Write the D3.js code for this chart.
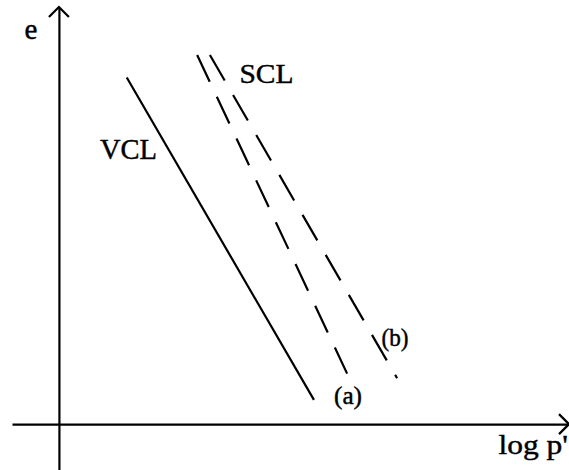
<!DOCTYPE html>
<html>
<head>
<meta charset="utf-8">
<script src="https://cdn.jsdelivr.net/npm/d3@7"></script>
<style>
  html, body { margin: 0; padding: 0; background: #fff; }
  svg { display: block; }
  text { font-family: "Liberation Serif", "Times New Roman", serif; fill: #000; stroke: #000; stroke-width: 0.45px; }
</style>
</head>
<body>
<svg id="chart" width="569" height="470"></svg>
<script>
// Compression lines in e – log p' space (schematic, arbitrary units)
const vclLogP = [1.33, 5.00];
const vclE    = [8.31, 0.58];

const sclALogP = [2.71, 5.65];
const sclAE    = [8.85, 1.21];

const sclBLogP = [2.96, 6.63];
const sclBE    = [8.85, 1.10];

// Axis extents (axes cross at the origin)
const logPDomain = [-0.92, 10.0];
const eDomain    = [-1.1, 10.0];
const axisTicks  = [];

const W = 569, H = 470;
const svg = d3.select("#chart");

const x = d3.scaleLinear().domain(logPDomain).range([12, 569]);
const y = d3.scaleLinear().domain(eDomain).range([470, 7]);

// Axes: plain lines through the origin, no ticks
const xAxis = svg.append("g")
  .attr("transform", `translate(0,${y(0)})`)
  .call(d3.axisBottom(x).tickValues(axisTicks).tickSizeOuter(0));
const yAxis = svg.append("g")
  .attr("transform", `translate(${x(0)},0)`)
  .call(d3.axisLeft(y).tickValues(axisTicks).tickSizeOuter(0));
[xAxis, yAxis].forEach(g => g.select(".domain")
  .attr("stroke", "#000").attr("stroke-width", 2.2));

// Open arrowheads at the positive ends of both axes
const head = 10;
svg.append("path")
  .attr("d", `M${x(0) - head},${y(eDomain[1]) + head} L${x(0)},${y(eDomain[1])} L${x(0) + head},${y(eDomain[1]) + head}`)
  .attr("fill", "none").attr("stroke", "#000").attr("stroke-width", 2.2);
svg.append("path")
  .attr("d", `M${x(logPDomain[1]) - head},${y(0) - head} L${x(logPDomain[1])},${y(0)} L${x(logPDomain[1]) - head},${y(0) + head}`)
  .attr("fill", "none").attr("stroke", "#000").attr("stroke-width", 2.2);

const line = d3.line().x(d => x(d[0])).y(d => y(d[1]));
const pts = (xs, ys) => xs.map((v, i) => [v, ys[i]]);

// Virgin compression line (solid)
svg.append("path")
  .attr("d", line(pts(vclLogP, vclE)))
  .attr("fill", "none").attr("stroke", "#000").attr("stroke-width", 2.2);

// Steady-state compression lines (dashed)
[pts(sclALogP, sclAE), pts(sclBLogP, sclBE)].forEach(p => {
  svg.append("path")
    .attr("d", line(p))
    .attr("fill", "none").attr("stroke", "#000").attr("stroke-width", 2.2)
    .attr("stroke-dasharray", "29.5 16.7");
});

// Labels
function label(txt, px, py, size, len) {
  const t = svg.append("text")
    .attr("x", px).attr("y", py)
    .attr("font-size", size)
    .text(txt);
  if (len) t.attr("textLength", len).attr("lengthAdjust", "spacingAndGlyphs");
  return t;
}
label("e", 24.5, 39, 29);
label("VCL", 100, 159, 30, 57);
label("SCL", 239.5, 83, 28, 54);
label("(b)", 381.5, 345.5, 25, 27);
label("(a)", 334, 404, 25, 28);
label("log p'", 498.5, 454, 28, 69.5);
</script>
</body>
</html>
